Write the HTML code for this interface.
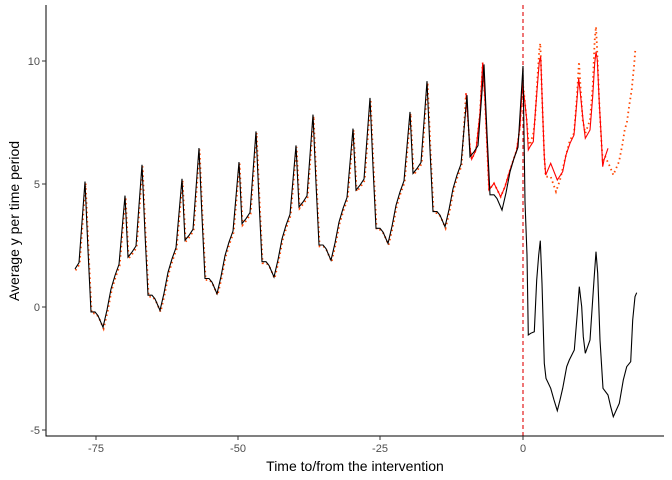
<!DOCTYPE html>
<html><head><meta charset="utf-8"><style>
html,body{margin:0;padding:0;background:#fff;}
svg{display:block;font-family:"Liberation Sans",sans-serif;}
</style></head><body>
<svg id="s" width="672" height="480" viewBox="0 0 672 480" xmlns="http://www.w3.org/2000/svg">
<rect width="672" height="480" fill="#fff"/>
<line x1="523" y1="5" x2="523" y2="436" stroke="#e31a1c" stroke-width="1.2" stroke-dasharray="4,3"/>
<polyline id="dot" fill="none" stroke="#ff4500" stroke-width="1.8" stroke-dasharray="1.5,3.2"/>
<polyline id="red" fill="none" stroke="#ff0000" stroke-width="1.1"/>
<polyline id="blk" fill="none" stroke="#000" stroke-width="1.1"/>
<line x1="46" y1="5" x2="46" y2="436.5" stroke="#000" stroke-width="1"/>
<line x1="45.5" y1="436" x2="664" y2="436" stroke="#000" stroke-width="1"/>
<g stroke="#333" stroke-width="1">
<line x1="42" y1="61" x2="46" y2="61"/><line x1="42" y1="184" x2="46" y2="184"/><line x1="42" y1="307" x2="46" y2="307"/><line x1="42" y1="430" x2="46" y2="430"/>
<line x1="96" y1="436" x2="96" y2="440"/><line x1="238" y1="436" x2="238" y2="440"/><line x1="380" y1="436" x2="380" y2="440"/><line x1="523" y1="436" x2="523" y2="440"/>
</g>
<g fill="#4d4d4d" font-size="11" text-anchor="end">
<text x="40" y="65">10</text><text x="40" y="188">5</text><text x="40" y="311">0</text><text x="40" y="434">-5</text>
</g>
<g fill="#4d4d4d" font-size="11" text-anchor="middle">
<text x="96" y="452">-75</text><text x="238" y="452">-50</text><text x="380" y="452">-25</text><text x="523" y="452">0</text>
</g>
<text x="355" y="471" font-size="14" text-anchor="middle" fill="#000">Time to/from the intervention</text>
<text transform="translate(19,221) rotate(-90)" font-size="14" text-anchor="middle" fill="#000">Average y per time period</text>
</svg>
<script>
var T=[[0,0],[4,0.7],[8,1.55],[12,2.1],[16,2.55],[22,5.35],[25,2.85],[29,3.05],[33,3.3],[39,6.6],[42,3.8],[45,1.3],[49,1.3],[52,1.15]];
var pre=[];
for(var k=0;k<=8;k++){var xm=46+57*k,m=-1.5+0.68*k;
 for(var i=0;i<T.length;i++){var x=xm+T[i][0];if(x<75||x>=521)continue;pre.push([x,307-24.6*(m+T[i][1])]);}}
pre.push([523,66]);
var bpost=[[130,150],[135,545],[141,705],[145,945],[152,940],[163,935],[170,780],[176,705],[181,662],[186,790],[193,1030],[198,1075],[212,1105],[222,1140],[232,1172],[240,1140],[248,1105],[260,1040],[268,1020],[283,990],[292,880],[298,800],[305,860],[310,950],[316,1000],[330,960],[342,780],[348,695],[353,760],[360,960],[369,1105],[384,1125],[392,1160],[400,1190],[418,1150],[430,1080],[440,1040],[452,1025],[458,900],[465,830],[470,818]].map(function(p){return[480+p[0]/3,20+p[1]/3];});
var blk=pre.concat(bpost.slice(1));
var r2=[[528,100],[540,265],[545,298],[558,270],[570,160],[578,8],[585,120],[593,300],[597,390],[612,370],[632,410],[645,380],[660,330],[680,270],[690,200],[696,90],[700,60]].map(function(p){return[290+p[0]/3,60+p[1]/3];});
var r3=[[125,225],[130,210],[135,250],[140,300],[145,390],[150,380],[160,365],[165,290],[172,200],[178,125],[182,110],[187,250],[193,410],[197,465],[212,430],[232,480],[248,455],[258,405],[270,370],[282,345],[290,250],[296,175],[302,230],[308,290],[316,355],[330,330],[338,230],[344,130],[348,95],[352,120],[358,250],[364,355],[368,440],[372,420],[384,385]].map(function(p){return[480+p[0]/3,20+p[1]/3];});
var red=r2.concat(r3);
var d3=[[125,215],[130,200],[135,250],[140,300],[145,360],[150,375],[160,340],[165,300],[172,180],[178,90],[181,70],[187,250],[193,410],[197,470],[212,470],[228,515],[240,480],[258,405],[270,360],[282,340],[290,240],[297,125],[302,210],[308,300],[316,340],[330,300],[338,200],[344,60],[348,20],[352,100],[358,250],[364,360],[368,420],[376,410],[390,440],[400,465],[417,425],[427,375],[434,330],[441,305],[448,255],[455,210],[460,160],[462,140],[466,90]].map(function(p){return[480+p[0]/3,20+p[1]/3];});
var dot=pre.filter(function(p){return p[0]<466;}).map(function(p){return[p[0]+0.6,p[1]+1.5];}).concat(r2.slice(0,-1)).concat(d3);
function s(a){return a.map(function(p){return p[0].toFixed(1)+','+p[1].toFixed(1);}).join(' ');}
document.getElementById('blk').setAttribute('points',s(blk));
document.getElementById('red').setAttribute('points',s(red));
document.getElementById('dot').setAttribute('points',s(dot));
</script>
</body></html>
